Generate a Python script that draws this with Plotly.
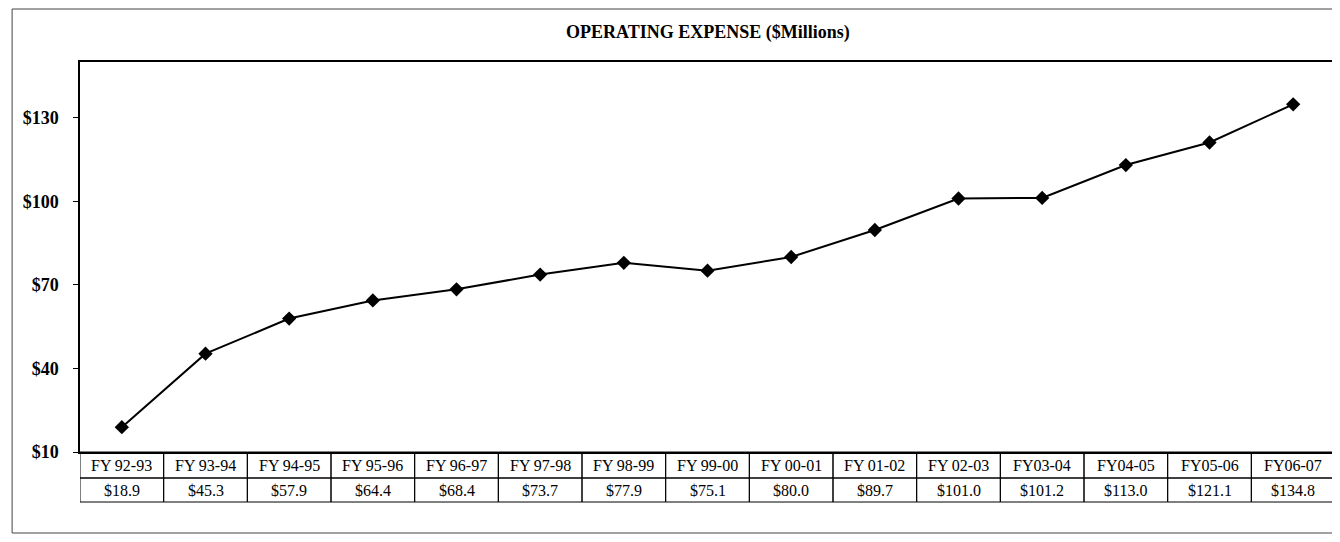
import plotly.graph_objects as go

categories = ["FY 92-93", "FY 93-94", "FY 94-95", "FY 95-96", "FY 96-97", "FY 97-98",
              "FY 98-99", "FY 99-00", "FY 00-01", "FY 01-02", "FY 02-03", "FY03-04",
              "FY04-05", "FY05-06", "FY06-07"]
expense = [18.9, 45.3, 57.9, 64.4, 68.4, 73.7, 77.9, 75.1, 80.0, 89.7, 101.0, 101.2,
           113.0, 121.1, 134.8]
value_labels = ["$18.9", "$45.3", "$57.9", "$64.4", "$68.4", "$73.7", "$77.9", "$75.1",
                "$80.0", "$89.7", "$101.0", "$101.2", "$113.0", "$121.1", "$134.8"]
y_ticks = [10, 40, 70, 100, 130]

# page body has an 8px margin, so the figure is offset by 8px in the window
OFF = 8
W, H = 1340 - OFF, 542 - OFF
ML, MT = 80 - OFF, 62 - OFF
MR = W - (1337 - OFF)
MB = H - (452 - OFF)
PH = H - MT - MB
PW = W - ML - MR
FONT = "Liberation Serif"

xs = list(range(len(categories)))

fig = go.Figure()
fig.add_trace(go.Scatter(
    x=xs, y=expense, mode="lines+markers",
    line=dict(color="black", width=2),
    marker=dict(symbol="diamond", size=11, color="black"),
    hoverinfo="skip", showlegend=False,
))


def py_win(ywin):
    """paper y for a window pixel row"""
    return ((H - MB) - (ywin - OFF)) / PH


def px_win(xwin):
    return ((xwin - OFF) - ML) / PW


row1 = (py_win(452), py_win(478))
row2 = (py_win(478), py_win(502))

shapes = []
annotations = []
for i, (c, v) in enumerate(zip(categories, value_labels)):
    for (ytop, ybot) in (row1, row2):
        shapes.append(dict(type="rect", xref="x", yref="paper",
                           x0=i - 0.5, x1=i + 0.5, y0=ybot, y1=ytop,
                           line=dict(color="black", width=1)))
    annotations.append(dict(x=i, y=(row1[0] + row1[1]) / 2, xref="x", yref="paper",
                            text=c, showarrow=False, yanchor="middle",
                            font=dict(family=FONT, size=16, color="black")))
    annotations.append(dict(x=i, y=(row2[0] + row2[1]) / 2, xref="x", yref="paper",
                            text=v, showarrow=False, yanchor="middle",
                            font=dict(family=FONT, size=16, color="black")))

# outer border
shapes.append(dict(type="rect", xref="paper", yref="paper",
                   x0=px_win(12), x1=px_win(1339),
                   y0=py_win(533), y1=py_win(9),
                   line=dict(color="#444", width=1)))

annotations.append(dict(x=0.5, y=py_win(32), xref="paper", yref="paper",
                        text="<b>OPERATING EXPENSE ($Millions)</b>", showarrow=False,
                        yanchor="middle",
                        font=dict(family=FONT, size=18, color="black")))

fig.update_layout(
    width=W, height=H,
    margin=dict(l=ML, r=MR, t=MT, b=MB, pad=0),
    paper_bgcolor="white", plot_bgcolor="white",
    shapes=shapes, annotations=annotations,
    xaxis=dict(range=[-0.5, len(categories) - 0.5], showgrid=False, zeroline=False,
               showticklabels=False, ticks="", showline=True, linecolor="black",
               linewidth=1.5, mirror=True, fixedrange=True),
    yaxis=dict(range=[10, 150], tickvals=y_ticks,
               ticktext=[f"<b>${t}</b>" for t in y_ticks],
               showgrid=False, zeroline=False, ticks="outside", ticklen=5,
               tickcolor="black", showline=True, linecolor="black", linewidth=1.5,
               mirror=True, ticklabelstandoff=11,
               tickfont=dict(family=FONT, size=18, color="black"), fixedrange=True),
)

fig.write_html("out.html")
